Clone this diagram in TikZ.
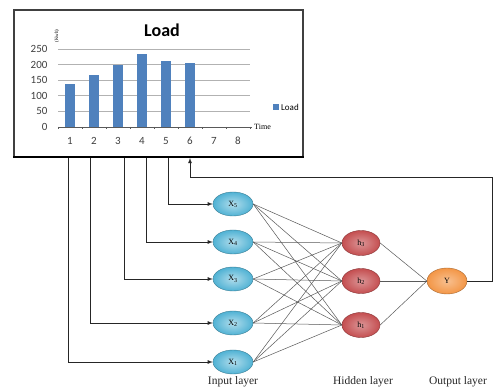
\documentclass[tikz,border=0pt]{standalone}
\usepackage{fontspec}
\setmainfont{Liberation Serif}
\newfontfamily\chartfont{Carlito}
\usetikzlibrary{graphs,shapes.geometric}
\definecolor{barblue}{RGB}{79,129,189}
\definecolor{inblue}{RGB}{80,178,212}
\definecolor{hidred}{RGB}{196,78,80}
\definecolor{outorange}{RGB}{243,150,70}
\tikzstyle{neuron} = [ellipse, inner sep=0pt, minimum width=40pt, minimum height=24pt, font=\fontsize{8}{8}\selectfont]
\tikzstyle{input} = [neuron, draw=inblue!70!black, shading=radial, inner color=inblue!45, outer color=inblue]
\tikzstyle{hidden} = [neuron, minimum width=38pt, minimum height=25pt, draw=hidred!70!black, shading=radial, inner color=hidred!60, outer color=hidred]
\tikzstyle{output} = [neuron, minimum height=26pt, draw=outorange!70!black, shading=radial, inner color=outorange!60, outer color=outorange]
\tikzstyle{feed} = [-latex, black!85, line width=0.8pt]
\tikzstyle{link} = [gray!70!black, line width=0.5pt]
\tikzstyle{layer} = [font=\fontsize{11.5}{12}\selectfont, text=black!85]
\tikzstyle{tick} = [font=\chartfont\fontsize{11}{11}\selectfont, text=black!75]

\begin{document}
\begin{tikzpicture}[x=1pt, y=-1pt]
    \useasboundingbox[fill=white] (0,0) rectangle (496,390);

    % chart
    \fill[white] (14,10) rectangle (303,157);
    \foreach \k in {1,...,5}
        \draw[gray!60, line width=0.9pt] (58,{127-15.6*\k}) -- (250,{127-15.6*\k});
    \foreach \i/\v in {1/138,2/167,3/199,4/234,5/212,6/205}
        \fill[barblue] ({58+24*\i-17},127) rectangle ++(10,{-0.312*\v});
    \draw[gray!70!black, line width=0.6pt] (58,127) -- (252,127);
    \foreach \i in {0,...,8}
        \draw[gray!70!black, line width=0.5pt] ({58+24*\i},127) -- ++(0,2.5);
    \foreach \k in {0,...,5}
        \node[tick, anchor=east] (ylab\k) at (51,{127-15.6*\k}) {\the\numexpr50*\k\relax};
    \foreach \i in {1,...,8}
        \node[tick] (xlab\i) at ({46+24*\i},141) {\i};
    \node[font=\chartfont\bfseries\fontsize{18}{20}\selectfont] (title) at (162,30) {Load};
    \node[rotate=90, font=\fontsize{5}{5}\selectfont, inner sep=0pt] (unit) at (57,36) {(Kwh)};
    \node[font=\fontsize{8}{8}\selectfont, anchor=west, inner sep=1pt] (time) at (253,127) {Time};
    \fill[barblue] (273,104) rectangle (279,110);
    \node[font=\chartfont\fontsize{9}{9}\selectfont, anchor=west, inner sep=1pt] (legend) at (280,107) {Load};
    \draw[black!75, line width=1.3pt] (14,10) rectangle (303,157);
    \draw[black, line width=2.6pt] (13,157) -- (304,157);

    % network
    \node[input] (x5) at (233,204) {X\textsubscript{5}};
    \node[input] (x4) at (233,242) {X\textsubscript{4}};
    \node[input] (x3) at (233,279) {X\textsubscript{3}};
    \node[input] (x2) at (233,323) {X\textsubscript{2}};
    \node[input] (x1) at (233,362) {X\textsubscript{1}};
    \node[hidden] (h3) at (361,243) {h\textsubscript{3}};
    \node[hidden] (h2) at (361,281) {h\textsubscript{2}};
    \node[hidden] (h1) at (361,325) {h\textsubscript{1}};
    \node[output] (y) at (447,281) {Y};

    \node[layer] (lin) at (233,382) {Input layer};
    \node[layer] (lhid) at (363,382) {Hidden layer};
    \node[layer] (lout) at (458,382) {Output layer};

    \graph[use existing nodes] {
        {x1, x2, x3, x4, x5} --[complete bipartite, link, to path={(\tikztostart.east) -- (\tikztotarget.west)}] {h1, h2, h3};
        {h1, h2, h3} --[link, to path={(\tikztostart.east) -- (\tikztotarget.west)}] y;
    };

    % data lines from the chart
    \coordinate (t1) at (68,158);
    \coordinate (t2) at (90,158);
    \coordinate (t3) at (124,158);
    \coordinate (t4) at (146,158);
    \coordinate (t5) at (168,158);
    \coordinate (t6) at (190,158);
    \coordinate (r1) at (492,281);
    \coordinate (r2) at (492,177);

    \draw[feed] (t1) |- (x1);
    \draw[feed] (t2) |- (x2);
    \draw[feed] (t3) |- (x3);
    \draw[feed] (t4) |- (x4);
    \draw[feed] (t5) |- (x5);
    \draw[feed] (y) -- (r1) -- (r2) -| (t6);
\end{tikzpicture}
\end{document}
